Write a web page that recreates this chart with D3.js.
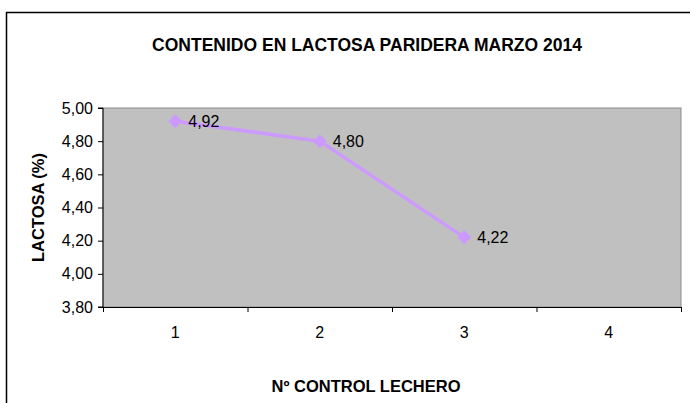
<!DOCTYPE html>
<html>
<head>
<meta charset="utf-8">
<script src="https://cdn.jsdelivr.net/npm/d3@7"></script>
<style>
  html, body { margin: 0; padding: 0; background: #fff; }
  svg { display: block; font-family: Arial, "Liberation Sans", sans-serif; }
</style>
</head>
<body>
<svg id="chart" width="690" height="403"></svg>
<script>
const categories = ["1", "2", "3", "4"];
const lactosa = [4.92, 4.80, 4.22];
const yTicks = [3.80, 4.00, 4.20, 4.40, 4.60, 4.80, 5.00];
const titleText = "CONTENIDO EN LACTOSA PARIDERA MARZO 2014";
const yTitle = "LACTOSA (%)";
const xTitle = "Nº CONTROL LECHERO";

const svg = d3.select("#chart");
const plot = { left: 103, right: 681, top: 108, bottom: 307 };

const fmt = v => d3.format(".2f")(v).replace(".", ",");

// outer chart border (extends past the window right/bottom)
svg.append("path")
  .attr("d", "M6.5,405 L6.5,12.5 L700,12.5")
  .attr("fill", "none").attr("stroke", "#000").attr("stroke-width", 1.5);

const x = d3.scaleBand().domain(categories).range([plot.left, plot.right]);
const y = d3.scaleLinear().domain([3.8, 5.0]).range([plot.bottom, plot.top]);

// plot area
svg.append("rect")
  .attr("x", plot.left).attr("y", plot.top)
  .attr("width", plot.right - plot.left).attr("height", plot.bottom - plot.top)
  .attr("fill", "#C0C0C0").attr("stroke", "#8c8c8c").attr("stroke-width", 1);

// y axis
const yAxis = d3.axisLeft(y).tickValues(yTicks).tickFormat(fmt).tickSize(5).tickPadding(5);
const gy = svg.append("g").attr("transform", `translate(${plot.left},0)`).call(yAxis);
gy.select(".domain").attr("stroke", "#000").attr("d", `M-5,${plot.top}H0V${plot.bottom}H-5`);
gy.selectAll(".tick line").attr("stroke", "#000");
gy.selectAll(".tick text").attr("font-size", 16).attr("fill", "#000")
  .attr("font-family", "Arial, 'Liberation Sans', sans-serif");

// x axis: ticks at band boundaries
const boundaries = categories.map(c => x(c)).concat([plot.right]);
const gx = svg.append("g");
gx.append("line").attr("x1", plot.left).attr("x2", plot.right)
  .attr("y1", plot.bottom + 0.5).attr("y2", plot.bottom + 0.5).attr("stroke", "#000");
gx.selectAll("line.tk").data(boundaries).join("line").attr("class", "tk")
  .attr("x1", d => d + 0.5).attr("x2", d => d + 0.5)
  .attr("y1", plot.bottom).attr("y2", plot.bottom + 5).attr("stroke", "#000");
gx.selectAll("text").data(categories).join("text")
  .attr("x", d => x(d) + x.bandwidth() / 2)
  .attr("y", 338)
  .attr("text-anchor", "middle")
  .attr("font-size", 16)
  .text(d => d);

// line
const cx = (d, i) => x(categories[i]) + x.bandwidth() / 2;
svg.append("path")
  .datum(lactosa)
  .attr("d", d3.line().x(cx).y(d => y(d)))
  .attr("fill", "none").attr("stroke", "#CC99FF").attr("stroke-width", 3.5)
  .attr("stroke-linejoin", "round");

// markers
svg.selectAll("path.mk").data(lactosa).join("path").attr("class", "mk")
  .attr("transform", (d, i) => `translate(${cx(d, i)},${y(d)})`)
  .attr("d", "M0,-7L7,0L0,7L-7,0Z")
  .attr("fill", "#CC99FF");

// data labels
svg.selectAll("text.lbl").data(lactosa).join("text").attr("class", "lbl")
  .attr("x", (d, i) => cx(d, i) + 13)
  .attr("y", d => y(d) + 6)
  .attr("font-size", 16)
  .text(d => fmt(d));

// titles
svg.append("text").attr("x", 367).attr("y", 51).attr("text-anchor", "middle")
  .attr("font-size", 17.5).attr("font-weight", "bold").text(titleText);
svg.append("text").attr("transform", `translate(44,${(plot.top + plot.bottom) / 2}) rotate(-90)`)
  .attr("text-anchor", "middle").attr("font-size", 16.5).attr("font-weight", "bold").text(yTitle);
svg.append("text").attr("x", 366).attr("y", 392).attr("text-anchor", "middle")
  .attr("font-size", 16.5).attr("font-weight", "bold").text(xTitle);
</script>
</body>
</html>
